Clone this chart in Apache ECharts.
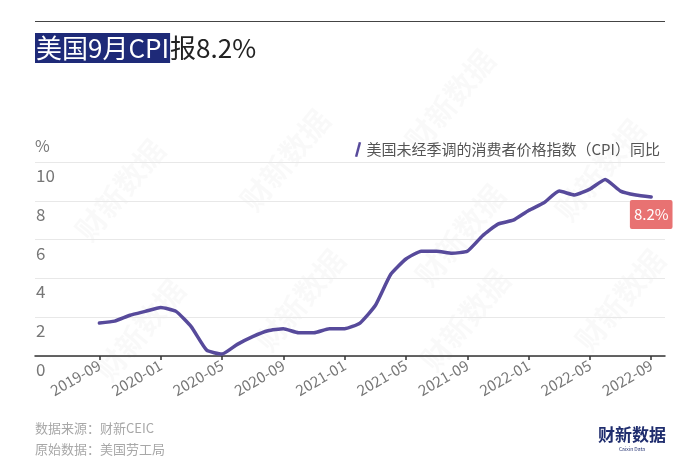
<!DOCTYPE html>
<html><head><meta charset="utf-8">
<script src="https://cdn.jsdelivr.net/npm/echarts@6/dist/echarts.min.js"></script>
<style>html,body{margin:0;padding:0;background:#fff}#c{width:700px;height:466px}</style>
</head><body><div id="c"></div>
<script>
const months = ['2019-09','2019-10','2019-11','2019-12','2020-01','2020-02','2020-03','2020-04','2020-05','2020-06','2020-07','2020-08','2020-09','2020-10','2020-11','2020-12','2021-01','2021-02','2021-03','2021-04','2021-05','2021-06','2021-07','2021-08','2021-09','2021-10','2021-11','2021-12','2022-01','2022-02','2022-03','2022-04','2022-05','2022-06','2022-07','2022-08','2022-09'];
const cpi = [1.7,1.8,2.1,2.3,2.5,2.3,1.5,0.3,0.1,0.6,1.0,1.3,1.4,1.2,1.2,1.4,1.4,1.7,2.6,4.2,5.0,5.4,5.4,5.3,5.4,6.2,6.8,7.0,7.5,7.9,8.5,8.3,8.6,9.1,8.5,8.3,8.2];
const xTickLabels = ['2019-09','2020-01','2020-05','2020-09','2021-01','2021-05','2021-09','2022-01','2022-05','2022-09'];
const yTicks = [0,2,4,6,8,10];
const seriesName = '美国未经季调的消费者价格指数（CPI）同比';
const titleHighlight = '美国9月CPI';
const titleRest = '报8.2%';
const sourceLines = ['数据来源：财新CEIC','原始数据：美国劳工局'];

const FONT = '"Noto Sans CJK SC","Noto Sans",sans-serif';
const LINE_COLOR = '#574a9b';
const xTickIdx = xTickLabels.map(m => months.indexOf(m));
const last = cpi.length - 1;

const chart = echarts.init(document.getElementById('c'), null, {renderer:'canvas'});

const watermarks = [[120,190],[285,160],[450,100],[140,330],[300,300],[465,320],[620,300],[460,235],[600,170]].map(p => ({
  type:'text', x:p[0], y:p[1], rotation: Math.PI*0.28, silent:true, z:-1,
  style:{text:'财新数据', fill:'rgba(0,0,0,0.022)', font:'bold 30px '+FONT, align:'center', verticalAlign:'middle'}
}));

chart.setOption({
  animation:false,
  textStyle:{fontFamily:FONT},
  title:{
    left:35, top:33, padding:0,
    text:'{a|'+titleHighlight+'}{b|'+titleRest+'}',
    textStyle:{fontWeight:'normal', rich:{
      a:{fontFamily:FONT, fontSize:26, fontWeight:'normal', color:'#fff', backgroundColor:'#1e2a78', height:30, lineHeight:30, padding:[0,1,0,1]},
      b:{fontFamily:FONT, fontSize:26, fontWeight:'normal', color:'#222', height:30, lineHeight:30}
    }}
  },
  legend:{
    right:35, top:137,
    itemWidth:7, itemHeight:15, itemGap:6,
    icon:'path://M5,15 L9,0 L11.5,0.6 L7.5,15.6 Z',
    textStyle:{fontFamily:FONT, fontSize:15, color:'#555'},
    data:[seriesName]
  },
  grid:{left:35, right:35, top:162, bottom:110},
  xAxis:{
    type:'value', min:-4.2, max:36.9,
    splitLine:{show:false},
    axisLine:{show:true, lineStyle:{color:'#333', width:1.5}},
    axisTick:{show:true, length:4, lineStyle:{color:'#333', width:1.5}, customValues:xTickIdx},
    axisLabel:{
      customValues:xTickIdx, rotate:30, margin:8,
      fontFamily:FONT, fontSize:15, color:'#777',
      formatter: v => months[Math.round(v)] || ''
    }
  },
  yAxis:{
    type:'value', min:0, max:10, interval:2,
    name:'%', nameLocation:'end', nameGap:16,
    nameTextStyle:{fontFamily:FONT, fontSize:16, color:'#777', align:'left', verticalAlign:'middle'},
    axisLine:{show:false, onZero:false}, axisTick:{show:false},
    splitLine:{lineStyle:{color:'#e8e8e8', width:1}},
    axisLabel:{
      inside:true, margin:1, fontFamily:FONT, fontSize:17, color:'#777',
      verticalAlign:'top', lineHeight:17, padding:[5,0,0,0]
    }
  },
  series:[{
    name:seriesName, type:'line',
    data: cpi.map((v,i) => [i,v]),
    showSymbol:false, symbol:'none', smooth:0.15,
    lineStyle:{color:LINE_COLOR, width:3.5, cap:'round', join:'round'},
    itemStyle:{color:LINE_COLOR},
    markPoint:{
      silent:true, animation:false,
      data:[{
        coord:[last, cpi[last]], value:cpi[last],
        symbol:'triangle', symbolSize:[9,6], symbolOffset:[0,6],
        itemStyle:{color:'#e87272'},
        label:{show:true, position:'bottom', distance:-1, formatter:'{c|'+cpi[last]+'%}',
          rich:{c:{fontFamily:FONT, fontSize:15, color:'#fff', backgroundColor:'#e87272', padding:[5,4,5,4], borderRadius:2, lineHeight:19, height:19}}}
      }]
    },
    z:3
  }],
  graphic:[
    {type:'line', shape:{x1:35,y1:21.5,x2:665,y2:21.5}, style:{stroke:'#444', lineWidth:1}},
    ...watermarks,
    {type:'text', left:35, top:422, style:{text:sourceLines[0], fill:'#a8a8a8', font:'13px '+FONT}},
    {type:'text', left:35, top:443, style:{text:sourceLines[1], fill:'#a8a8a8', font:'13px '+FONT}},
    {type:'text', x:632, y:435, style:{text:'财新数据', fill:'#1f2d6e', font:'bold 17px '+FONT, align:'center', verticalAlign:'middle'}},
    {type:'text', x:632, y:449, style:{text:'Caixin Data', fill:'#1f2d6e', font:'5px '+FONT, align:'center', verticalAlign:'middle'}}
  ]
});
</script></body></html>
